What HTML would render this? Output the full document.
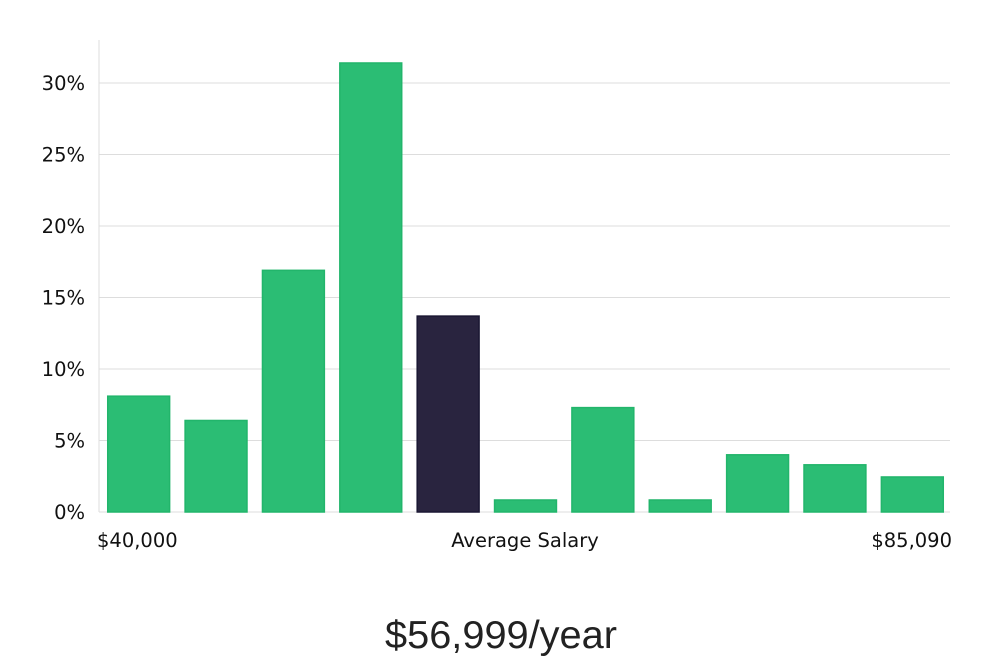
<!DOCTYPE html>
<html><head><meta charset="utf-8"><style>
body{margin:0;background:#fff;}
svg text{font-family:"DejaVu Sans","Liberation Sans",sans-serif;fill:#111;}
</style></head><body>
<svg width="1000" height="660" viewBox="0 0 1000 660" xmlns="http://www.w3.org/2000/svg">
<g id="grid"></g><g id="bars"></g><g id="labels"></g>
<text x="97" y="547" font-size="19.5">$40,000</text>
<text x="525" y="547" font-size="19.5" text-anchor="middle">Average Salary</text>
<text x="952" y="547" font-size="19.5" text-anchor="end">$85,090</text>
<text x="501" y="648" font-size="39" text-anchor="middle" style="font-family:'Liberation Sans',sans-serif;fill:#222" textLength="232" lengthAdjust="spacingAndGlyphs">$56,999/year</text>
</svg>
<script>
const categories=["b1","b2","b3","b4","b5","b6","b7","b8","b9","b10","b11"];
const values=[8.1,6.4,16.9,31.4,13.7,0.84,7.3,0.84,4.0,3.3,2.45];
const highlight=[false,false,false,false,true,false,false,false,false,false,false];
const yTicks=[0,5,10,15,20,25,30];
const yTickLabels=["0%","5%","10%","15%","20%","25%","30%"];
const NS="http://www.w3.org/2000/svg";
const left=100,right=951,y0=512,pxPer=(512-83)/30;
const y=v=>y0-v*pxPer;
const band=(right-left)/categories.length;
const grid=document.getElementById('grid'),bars=document.getElementById('bars'),labels=document.getElementById('labels');
function mk(t,a,p){const e=document.createElementNS(NS,t);for(const k in a)e.setAttribute(k,a[k]);p.appendChild(e);return e;}
const ax=mk('line',{x1:99,x2:99,y1:40,y2:y0,stroke:'#ddd','stroke-width':1},grid);


yTicks.forEach((t,i)=>{
  const l=mk('line',{x1:99,x2:950,y1:y(t),y2:y(t),stroke:'#ddd','stroke-width':1},grid);
  
  
  const tx=mk('text',{x:85,y:y(t)+7,'font-size':19.5,'text-anchor':'end'},labels);
  tx.textContent=yTickLabels[i];
  
  
});
values.forEach((v,i)=>{
  const w=band*0.8,x=left+band*i+(band-w)/2;
  const r=mk('rect',{x:x,y:y(v),width:w,height:y0-y(v),fill:highlight[i]?'#29243f':'#2bbd74',stroke:highlight[i]?'#1a1733':'#22b56b','stroke-width':1.5},bars);
  
  
});
</script>
</body></html>
